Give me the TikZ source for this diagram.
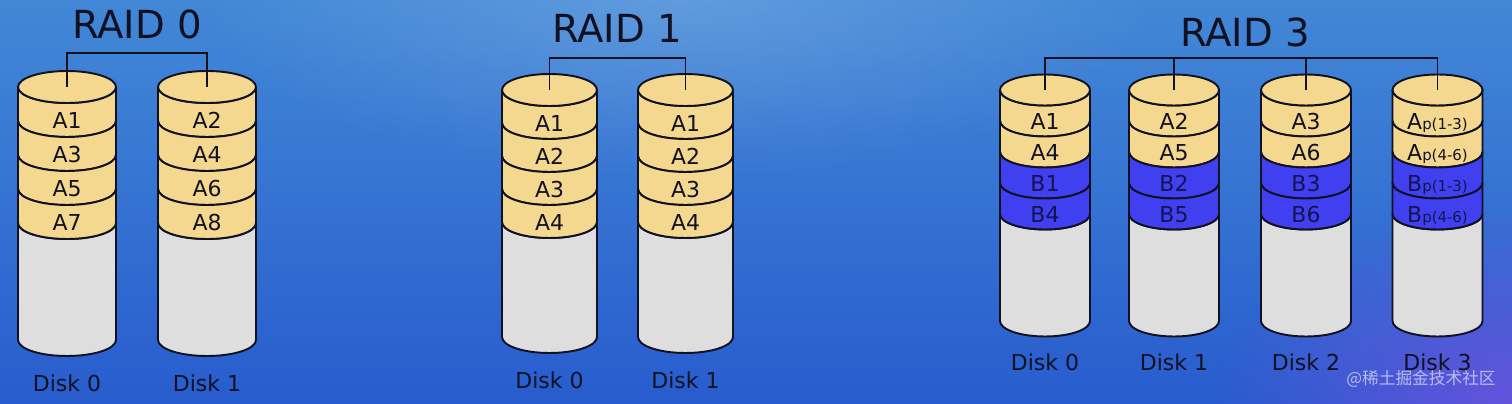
\documentclass[tikz,border=0pt]{standalone}
\usepackage{fontspec}
\setmainfont{DejaVu Sans}
\newfontfamily\cjk{Noto Sans CJK SC}
\usetikzlibrary{fadings}
\tikzfading[name=softfade, inner color=transparent!0, outer color=transparent!100]
\definecolor{bgtop}{RGB}{66,136,214}
\definecolor{bgbot}{RGB}{40,92,206}
\definecolor{bgpurple}{RGB}{120,80,225}
\definecolor{yel}{RGB}{245,216,143}
\definecolor{blu}{RGB}{64,64,240}
\definecolor{gry}{RGB}{222,222,222}
\definecolor{ink}{RGB}{17,17,34}
\definecolor{navy}{RGB}{20,20,80}
\newcommand\sm[1]{{\fontsize{8.5}{9}\selectfont #1}}
% #1 name, #2 cx, #3 rx, #4 y0, #5 ry, #6 band height, #7 bottom y, #8 bands
\newcommand\rdisk[8]{%
  \pgfmathsetmacro\yn{#4+4*#6}%
  \filldraw[dl, fill=gry] (#2-#3,\yn) -- (#2-#3,#7)
     arc[start angle=180, end angle=0, x radius=#3, y radius=#5]
     -- (#2+#3,\yn) arc[start angle=0, end angle=180, x radius=#3, y radius=#5] -- cycle;
  \foreach \c/\t [count=\i from 0] in {#8}{%
    \pgfmathsetmacro\ya{#4+\i*#6}%
    \pgfmathsetmacro\yb{#4+(\i+1)*#6}%
    \filldraw[dl, \c] (#2-#3,\ya) -- (#2-#3,\yb)
       arc[start angle=180, end angle=0, x radius=#3, y radius=#5]
       -- (#2+#3,\ya) arc[start angle=0, end angle=180, x radius=#3, y radius=#5] -- cycle;
    \node[bandtxt, \c, fill=none] (#1-\i) at (#2, \ya+#6/2+#5+1) {\t};
  }%
  \filldraw[dl, fill=yel] (#2,#4) ellipse[x radius=#3, y radius=#5];
  \coordinate (#1) at (#2,#4);
}
\begin{document}
\begin{tikzpicture}[x=0.02cm, y=-0.02cm,
  dl/.style={draw=ink, line width=1.1pt, line join=round},
  Y/.style={fill=yel, text=ink},
  B/.style={fill=blu, text=navy},
  bandtxt/.style={font=\fontsize{12.5}{14}\selectfont, inner sep=0pt, text height=9pt, text depth=0pt},
  disktxt/.style={font=\fontsize{12.5}{14}\selectfont, text=ink, inner sep=0pt, text height=9pt, text depth=0pt},
  title/.style={font=\fontsize{22}{26}\selectfont, text=ink, inner sep=0pt, text height=16pt, text depth=0pt},
  bus/.style={draw=ink, line width=1.1pt}]
\useasboundingbox (0,0) rectangle (1512,404);
% background
\shade[top color=bgtop, bottom color=bgbot] (0,0) rectangle (1512,404);
\begin{scope}
  \clip (0,0) rectangle (1512,404);
  \fill[white, opacity=0.16, path fading=softfade] (680,0) ellipse[x radius=480, y radius=180];
  \fill[bgpurple, opacity=0.75, path fading=softfade] (1512,404) ellipse[x radius=300, y radius=200];
\end{scope}

% ---------- RAID 0 ----------
\node[title] (t0) at (137,24) {RAID 0};
\coordinate (r0bus) at (137,53);
\rdisk{r0d0}{67}{49}{87}{16}{34}{340}{Y/A1,Y/A3,Y/A5,Y/A7}
\rdisk{r0d1}{207}{49}{87}{16}{34}{340}{Y/A2,Y/A4,Y/A6,Y/A8}
\draw[bus] (r0d0) |- (r0bus) -| (r0d1);
\node[disktxt] (r0l0) at (67,384) {Disk 0};
\node[disktxt] (r0l1) at (207,384) {Disk 1};

% ---------- RAID 1 ----------
\node[title] (t1) at (617,28) {RAID 1};
\coordinate (r1bus) at (617,58);
\rdisk{r1d0}{549.5}{47.5}{90}{16}{33}{337}{Y/A1,Y/A2,Y/A3,Y/A4}
\rdisk{r1d1}{685.5}{47.5}{90}{16}{33}{337}{Y/A1,Y/A2,Y/A3,Y/A4}
\draw[bus] (r1d0) |- (r1bus) -| (r1d1);
\node[disktxt] (r1l0) at (549.5,381) {Disk 0};
\node[disktxt] (r1l1) at (685.5,381) {Disk 1};

% ---------- RAID 3 ----------
\node[title] (t3) at (1245,32) {RAID 3};
\coordinate (r3bus) at (1245,58);
\rdisk{r3d0}{1045}{45}{90}{15.5}{31}{321}{Y/A1,Y/A4,B/B1,B/B4}
\rdisk{r3d1}{1174}{45}{90}{15.5}{31}{321}{Y/A2,Y/A5,B/B2,B/B5}
\rdisk{r3d2}{1306}{45}{90}{15.5}{31}{321}{Y/A3,Y/A6,B/B3,B/B6}
\rdisk{r3d3}{1437.5}{45}{90}{15.5}{31}{321}{Y/{A\sm{p(1-3)}},Y/{A\sm{p(4-6)}},B/{B\sm{p(1-3)}},B/{B\sm{p(4-6)}}}
\draw[bus] (r3d0) |- (r3bus) -| (r3d3);
\draw[bus] (r3d1) -- (r3d1 |- r3bus);
\draw[bus] (r3d2) -- (r3d2 |- r3bus);
\node[disktxt] (r3l0) at (1045,363) {Disk 0};
\node[disktxt] (r3l1) at (1174,363) {Disk 1};
\node[disktxt] (r3l2) at (1306,363) {Disk 2};
\node[disktxt] (r3l3) at (1437.5,363) {Disk 3};

% watermark
\node[font=\cjk\fontsize{9.5}{11}\selectfont, text=white, opacity=0.6, inner sep=0pt] (wm) at (1421,379) {@稀土掘金技术社区};
\end{tikzpicture}
\end{document}
